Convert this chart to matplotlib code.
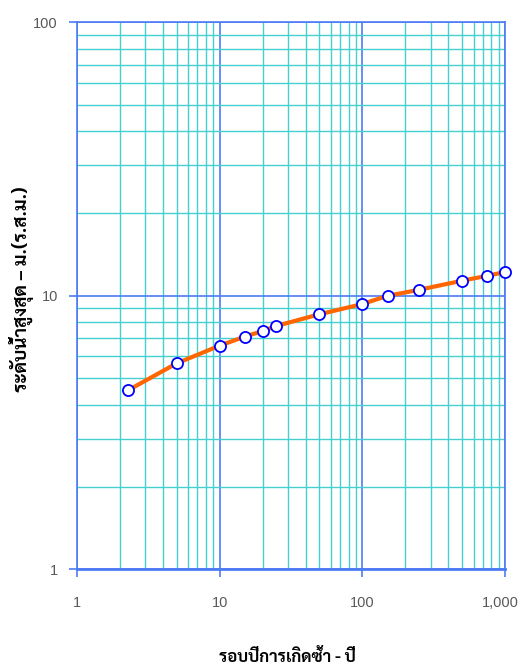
import matplotlib
matplotlib.use("Agg")
import matplotlib.pyplot as plt
from matplotlib.ticker import FixedLocator, FixedFormatter, LogLocator, NullFormatter
from matplotlib.transforms import ScaledTranslation
import numpy as np

# Data
return_period = [2.3, 5, 10, 15, 20, 25, 50, 100, 150, 250, 500, 750, 1000]
water_level = [4.52, 5.66, 6.57, 7.09, 7.43, 7.76, 8.56, 9.33, 10.0, 10.52, 11.36, 11.84, 12.22]

x_ticks = [1, 10, 100, 1000]
x_tick_labels = ["1", "10", "100", "1,000"]
y_ticks = [1, 10, 100]
y_tick_labels = ["1", "10", "100"]

x_label = "รอบปีการเกิดซ้ำ - ปี"
y_label = "ระดับน้ำสูงสุด – ม.(ร.ส.ม.)"

thai_font = ["Sarabun", "DejaVu Sans"]
plt.rcParams["font.family"] = ["Liberation Sans Narrow", "Liberation Sans", "DejaVu Sans"]

fig = plt.figure(figsize=(5.2, 6.69), dpi=100)
W, H = 520, 669
left, right, top, bottom = 76.7, 505.3, 22.3, 569.3
ax = fig.add_axes([left / W, 1 - bottom / H, (right - left) / W, (bottom - top) / H])

ax.set_xscale("log")
ax.set_yscale("log")
ax.set_xlim(1, 1000)
ax.set_ylim(1, 100)

major_c = "#4D7BF3"
minor_c = "#45CFCF"

ax.xaxis.set_minor_locator(LogLocator(base=10, subs=np.arange(2, 10)))
ax.yaxis.set_minor_locator(LogLocator(base=10, subs=np.arange(2, 10)))
ax.xaxis.set_minor_formatter(NullFormatter())
ax.yaxis.set_minor_formatter(NullFormatter())
ax.grid(which="minor", color=minor_c, linewidth=1.0)
ax.grid(which="major", color=major_c, linewidth=1.2)
ax.set_axisbelow(True)

ax.xaxis.set_major_locator(FixedLocator(x_ticks))
ax.xaxis.set_major_formatter(FixedFormatter(x_tick_labels))
ax.yaxis.set_major_locator(FixedLocator(y_ticks))
ax.yaxis.set_major_formatter(FixedFormatter(y_tick_labels))

ax.tick_params(which="major", length=5.5, width=1.2, color=major_c,
               labelcolor="#595959", labelsize=10.5)
ax.tick_params(axis="y", which="major", pad=8)
ax.tick_params(axis="x", which="major", pad=14)
ax.tick_params(which="minor", length=0)

for side in ["left", "top", "right"]:
    ax.spines[side].set_color(major_c)
    ax.spines[side].set_linewidth(1.2)
ax.spines["bottom"].set_color(major_c)
ax.spines["bottom"].set_linewidth(2.0)

ax.plot(return_period, water_level, color="#FF6600", linewidth=3.0,
        marker="o", markersize=8, markerfacecolor="white",
        markeredgecolor="#0000FF", markeredgewidth=1.3, clip_on=False, zorder=5)

fig.canvas.draw()
last = ax.get_xticklabels()[-1]
last.set_transform(last.get_transform() + ScaledTranslation(-4.5 / 100, 0, fig.dpi_scale_trans))

fig.text(287 / W, 1 - 657 / H, x_label, ha="center", va="center",
         fontsize=12, fontweight="bold", family=thai_font, color="#000000")
fig.text(22 / W, 1 - 289 / H, y_label, ha="center", va="center", rotation=90,
         fontsize=13.5, fontweight="bold", family=thai_font, color="#000000")

fig.savefig("out.png", dpi=100)
